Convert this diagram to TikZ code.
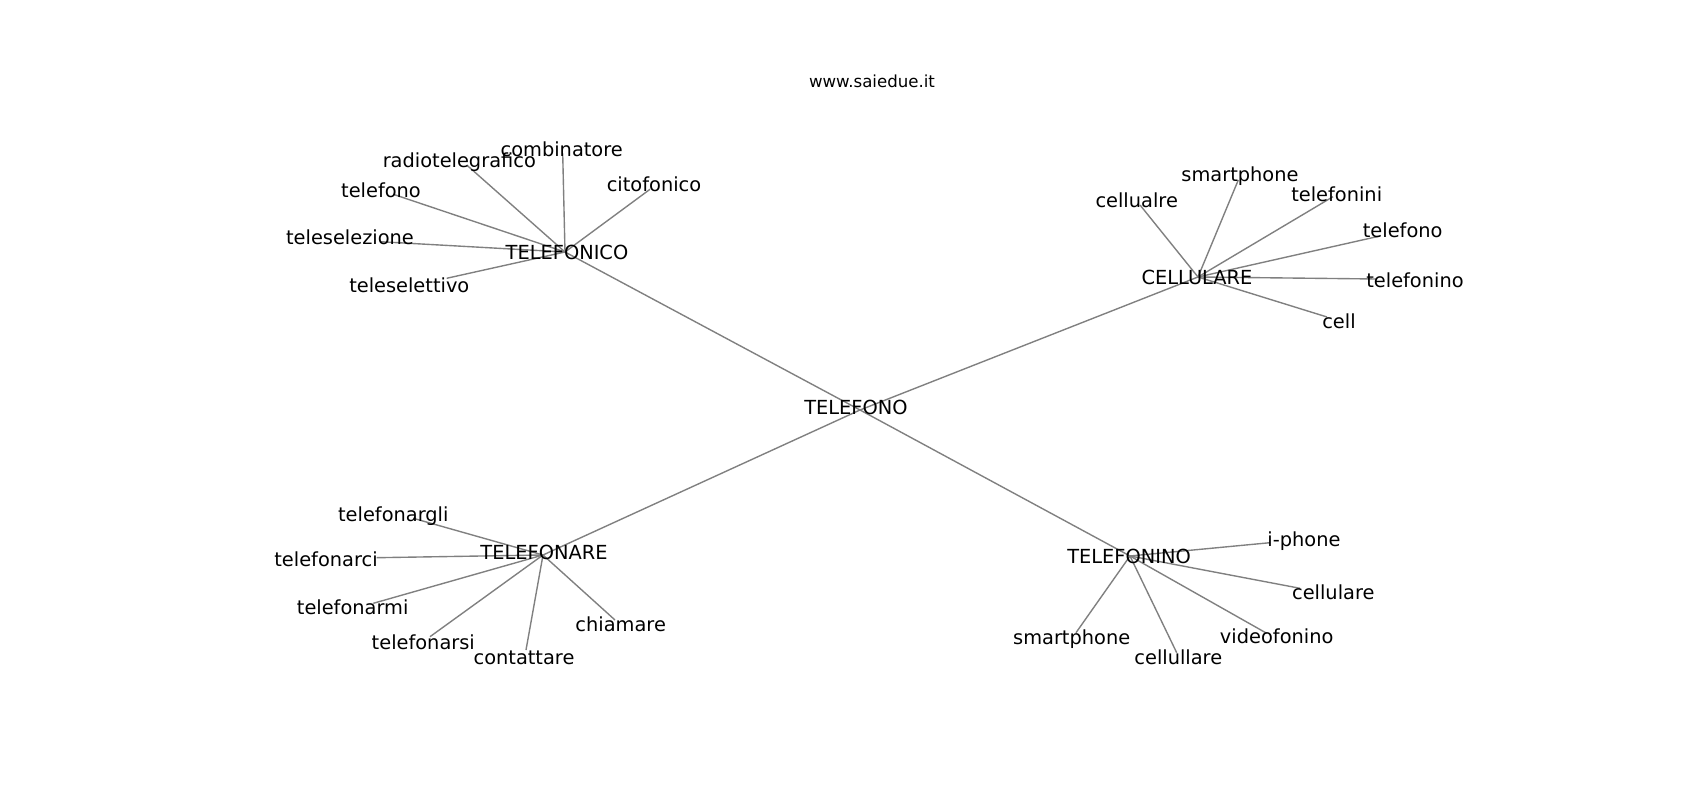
\documentclass[tikz,border=0pt]{standalone}
\usepackage{fontspec}
\setmainfont{DejaVu Sans}
\definecolor{edgegray}{RGB}{128,128,128}
\begin{document}
\begin{tikzpicture}[x=0.01in,y=-0.01in,
  lbl/.style={font=\fontsize{14}{17}\selectfont, anchor=base, inner sep=0pt, yshift=-0.01in},
  ttl/.style={font=\fontsize{12}{14}\selectfont, anchor=base, inner sep=0pt},
  edge/.style={draw=edgegray, line width=1pt}]
\useasboundingbox[fill=white] (0,0) rectangle (1700,800);
% hubs
\coordinate (h0) at (860,410);
\coordinate (h1) at (565,252);
\coordinate (h2) at (1198,277);
\coordinate (h3) at (543,555);
\coordinate (h4) at (1130,556);
% leaf ends TELEFONICO
\coordinate (a1) at (562.7,153.3);
\coordinate (a2) at (466.7,165);
\coordinate (a3) at (393.3,194.3);
\coordinate (a4) at (380,241.7);
\coordinate (a5) at (650,189.3);
\coordinate (a6) at (446.7,278.3);
% leaf ends CELLULARE
\coordinate (b1) at (1140,205);
\coordinate (b2) at (1238.3,180);
\coordinate (b3) at (1333,196.7);
\coordinate (b4) at (1380,236);
\coordinate (b5) at (1377,279);
\coordinate (b6) at (1327,317);
% leaf ends TELEFONARE
\coordinate (c1) at (413.3,518.3);
\coordinate (c2) at (376.7,557.7);
\coordinate (c3) at (373.3,603.3);
\coordinate (c4) at (430,636.7);
\coordinate (c5) at (526,650);
\coordinate (c6) at (615,620);
% leaf ends TELEFONINO
\coordinate (d1) at (1270,542.7);
\coordinate (d2) at (1300,588.3);
\coordinate (d3) at (1266.7,633.3);
\coordinate (d4) at (1176.7,652.7);
\coordinate (d5) at (1076,632.7);
% edges
\foreach \h in {h1,h2,h3,h4} \draw[edge] (h0) -- (\h);
\foreach \e in {a1,a2,a3,a4,a5,a6} \draw[edge] (h1) -- (\e);
\foreach \e in {b1,b2,b3,b4,b5,b6} \draw[edge] (h2) -- (\e);
\foreach \e in {c1,c2,c3,c4,c5,c6} \draw[edge] (h3) -- (\e);
\foreach \e in {d1,d2,d3,d4,d5} \draw[edge] (h4) -- (\e);
% title
\node[ttl] (title) at (872,88) {www.saiedue.it};
% hub labels
\node[lbl] (n0) at (856,413) {TELEFONO};
\node[lbl] (n1) at (567,259) {TELEFONICO};
\node[lbl] (n2) at (1197,284) {CELLULARE};
\node[lbl] (n3) at (544,558) {TELEFONARE};
\node[lbl] (n4) at (1129,562) {TELEFONINO};
% TELEFONICO leaves
\node[lbl] (la1) at (561.7,155.3) {combinatore};
\node[lbl] (la2) at (459.3,166.3) {radiotelegrafico};
\node[lbl] (la3) at (381,196.3) {telefono};
\node[lbl] (la4) at (350,243.7) {teleselezione};
\node[lbl] (la5) at (654,190.3) {citofonico};
\node[lbl] (la6) at (409.3,292) {teleselettivo};
% CELLULARE leaves
\node[lbl] (lb1) at (1136.7,207) {cellualre};
\node[lbl] (lb2) at (1240,180.3) {smartphone};
\node[lbl] (lb3) at (1336.7,200.3) {telefonini};
\node[lbl] (lb4) at (1402.7,236.3) {telefono};
\node[lbl] (lb5) at (1415,286.3) {telefonino};
\node[lbl] (lb6) at (1339,327.7) {cell};
% TELEFONARE leaves
\node[lbl] (lc1) at (393.3,520.3) {telefonargli};
\node[lbl] (lc2) at (326,565.3) {telefonarci};
\node[lbl] (lc3) at (352.7,613.7) {telefonarmi};
\node[lbl] (lc4) at (423.3,648) {telefonarsi};
\node[lbl] (lc5) at (524,663) {contattare};
\node[lbl] (lc6) at (620.7,630.3) {chiamare};
% TELEFONINO leaves
\node[lbl] (ld1) at (1304,545.3) {i-phone};
\node[lbl] (ld2) at (1333.3,598.7) {cellulare};
\node[lbl] (ld3) at (1276.7,642) {videofonino};
\node[lbl] (ld4) at (1178.3,663.7) {cellullare};
\node[lbl] (ld5) at (1071.7,643) {smartphone};
\end{tikzpicture}
\end{document}
